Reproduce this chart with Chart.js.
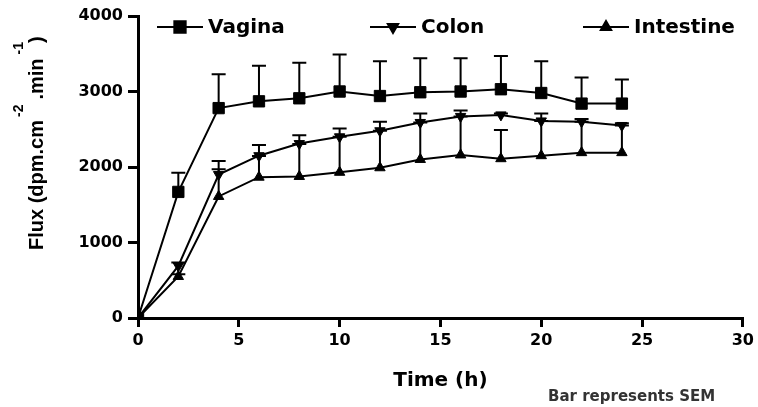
<!DOCTYPE html>
<html>
<head>
<meta charset="utf-8">
<script src="https://cdn.jsdelivr.net/npm/chart.js@4"></script>
<style>
  body { margin: 0; background: #fff; }
</style>
</head>
<body>
<canvas id="fluxChart" width="758" height="407"></canvas>
<script>
const hours = [0, 2, 4, 6, 8, 10, 12, 14, 16, 18, 20, 22, 24];
const vagina = [0, 1670, 2780, 2870, 2910, 3000, 2940, 2990, 3000, 3030, 2980, 2840, 2840];
const vaginaSem = [0, 255, 450, 470, 470, 490, 460, 450, 440, 440, 420, 345, 320];
const colon = [0, 690, 1900, 2150, 2310, 2400, 2480, 2590, 2670, 2690, 2610, 2600, 2550];
const colonSem = [0, 45, 180, 140, 110, 110, 120, 120, 80, 20, 100, 35, 30];
const intestine = [0, 550, 1610, 1865, 1875, 1930, 1990, 2100, 2160, 2110, 2150, 2190, 2190];
const intestineSem = [0, 30, 360, 280, 430, 470, 490, 490, 510, 380, 460, 410, 360];
const yTicks = [0, 1000, 2000, 3000, 4000];
const xTicks = [0, 5, 10, 15, 20, 25, 30];

const FONT = "'DejaVu Sans', sans-serif";
const TITLE_FONT = "'Liberation Sans', Arial, sans-serif";

function points(values) {
  return hours.map((h, i) => ({ x: h, y: values[i] }));
}

// upward-only SEM bars, drawn under the markers
const errorBars = {
  id: 'errorBars',
  beforeDatasetsDraw(chart) {
    const ctx = chart.ctx;
    const xs = chart.scales.x;
    const ys = chart.scales.y;
    ctx.save();
    ctx.strokeStyle = '#000';
    ctx.lineWidth = 2;
    chart.data.datasets.forEach(ds => {
      ds.sem.forEach((e, i) => {
        if (!e) return;
        const px = xs.getPixelForValue(hours[i]);
        const y0 = ys.getPixelForValue(ds.data[i].y);
        const y1 = ys.getPixelForValue(ds.data[i].y + e);
        ctx.beginPath();
        ctx.moveTo(px, y0);
        ctx.lineTo(px, y1);
        ctx.moveTo(px - 7, y1);
        ctx.lineTo(px + 7, y1);
        ctx.stroke();
      });
    });
    ctx.restore();
  }
};

// y title with real superscripts, line + marker legend, SEM note
const labels = {
  id: 'labels',
  afterDraw(chart) {
    const ctx = chart.ctx;
    ctx.save();

    // y axis title
    ctx.save();
    ctx.translate(43, 250);
    ctx.rotate(-Math.PI / 2);
    ctx.fillStyle = '#000';
    ctx.textAlign = 'left';
    ctx.textBaseline = 'alphabetic';
    // [text, superscript?, gap after]
    const parts = [
      ['Flux (dpm.cm', false, 3], ['-2', true, 5], ['.min', false, 4], ['-1', true, -1], [')', false, 0]
    ];
    let tx = 0;
    parts.forEach(([t, sup, gap]) => {
      ctx.font = sup ? 'bold 14px ' + TITLE_FONT : 'bold 20px ' + TITLE_FONT;
      ctx.fillText(t, tx, sup ? -20 : 0);
      tx += ctx.measureText(t).width + gap;
    });
    ctx.restore();

    // legend
    const starts = [157, 370, 583];
    const ly = 27;
    chart.data.datasets.forEach((ds, i) => {
      const x0 = starts[i];
      ctx.strokeStyle = '#000';
      ctx.fillStyle = '#000';
      ctx.lineWidth = 2;
      ctx.beginPath();
      ctx.moveTo(x0, ly);
      ctx.lineTo(x0 + 46, ly);
      ctx.stroke();
      Chart.helpers.drawPoint(ctx, {
        pointStyle: ds.pointStyle,
        radius: ds.pointRadius,
        rotation: ds.pointRotation || 0,
        borderWidth: 1
      }, x0 + 23, ly);
      ctx.font = 'bold 20px ' + FONT;
      ctx.textAlign = 'left';
      ctx.textBaseline = 'middle';
      ctx.fillText(ds.label, x0 + 51, ly + 1);
    });

    ctx.font = 'bold 15px ' + FONT;
    ctx.fillStyle = '#333';
    ctx.textBaseline = 'middle';
    ctx.fillText('Bar represents SEM', 548, 397);
    ctx.restore();
  }
};

function series(label, values, sem, style, radius, rotation) {
  return {
    label: label,
    data: points(values),
    sem: sem,
    borderColor: '#000',
    backgroundColor: '#000',
    borderWidth: 2,
    pointStyle: style,
    pointRadius: radius,
    pointRotation: rotation,
    pointBorderWidth: 1,
    pointBackgroundColor: '#000',
    pointBorderColor: '#000',
    tension: 0
  };
}

const ctx = document.getElementById('fluxChart').getContext('2d');
new Chart(ctx, {
  type: 'line',
  data: {
    datasets: [
      series('Vagina', vagina, vaginaSem, 'rect', 8, 0),
      series('Colon', colon, colonSem, 'triangle', 6, 180),
      series('Intestine', intestine, intestineSem, 'triangle', 6, 0)
    ]
  },
  options: {
    responsive: false,
    animation: false,
    events: [],
    layout: { padding: { left: 0, top: 16, right: 15, bottom: 0 } },
    plugins: {
      legend: { display: false },
      tooltip: { enabled: false }
    },
    scales: {
      x: {
        type: 'linear',
        min: 0,
        max: 30,
        afterBuildTicks: s => { s.ticks = xTicks.map(v => ({ value: v })); },
        afterFit: s => { s.height = 89; },
        grid: { drawOnChartArea: false, drawTicks: true, tickLength: 9, color: '#000', lineWidth: 3 },
        border: { color: '#000', width: 3 },
        ticks: { color: '#000', padding: 4, font: { family: FONT, size: 16, weight: 'bold' }, callback: v => String(v) },
        title: {
          display: true,
          text: 'Time (h)',
          color: '#000',
          font: { family: FONT, size: 20, weight: 'bold' },
          padding: { top: 0, bottom: 14 }
        }
      },
      y: {
        type: 'linear',
        min: 0,
        max: 4000,
        afterBuildTicks: s => { s.ticks = yTicks.map(v => ({ value: v })); },
        afterFit: s => { s.width = 138; },
        grid: { drawOnChartArea: false, drawTicks: true, tickLength: 10, color: '#000', lineWidth: 3 },
        border: { color: '#000', width: 3 },
        ticks: { color: '#000', padding: 5, font: { family: FONT, size: 16, weight: 'bold' }, callback: v => String(v) }
      }
    }
  },
  plugins: [errorBars, labels]
});
</script>
</body>
</html>
